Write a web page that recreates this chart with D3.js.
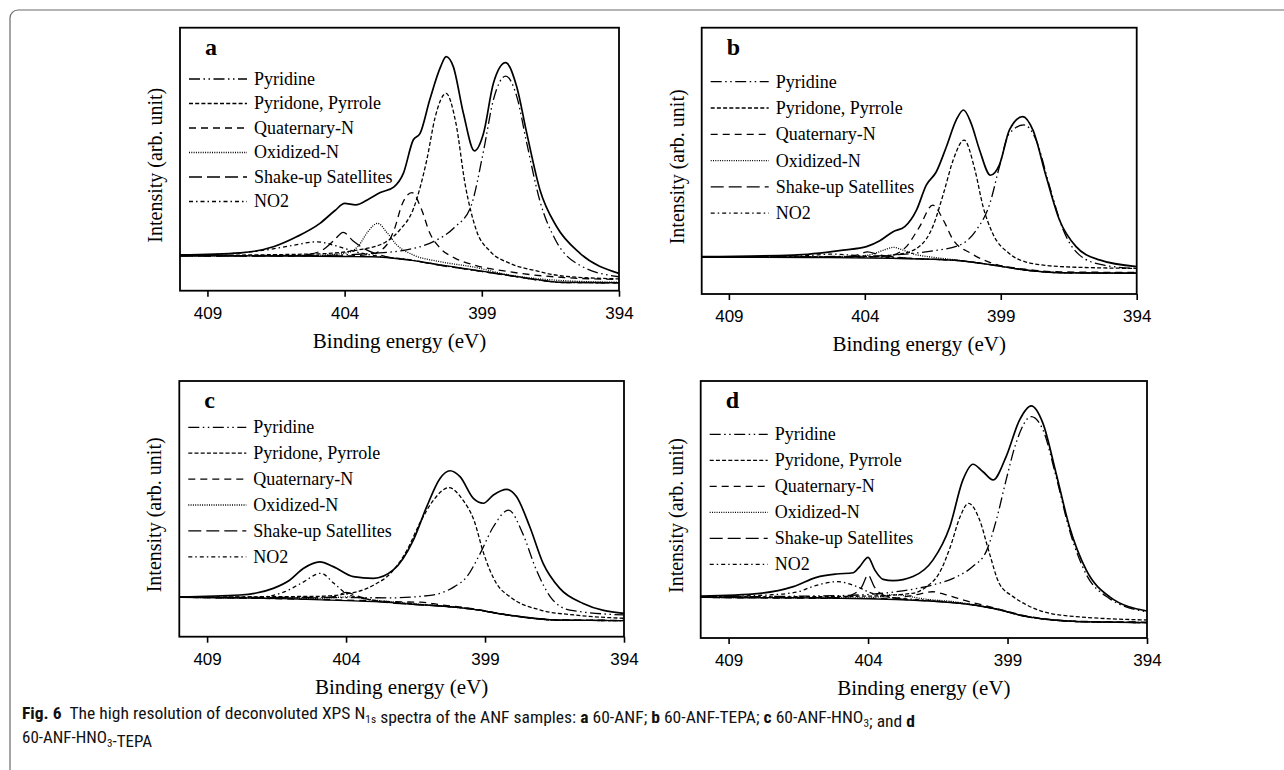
<!DOCTYPE html>
<html>
<head>
<meta charset="utf-8">
<script src="https://cdn.jsdelivr.net/npm/d3@7/dist/d3.min.js"></script>
<style>
  body { margin: 0; background: #fff; }
  svg { display: block; }
</style>
</head>
<body>
<svg id="chart" width="1284" height="770"></svg>
<script>
// binding energy (eV), intensity in % of the plot height
const componentNames = ["Pyridine", "Pyridone, Pyrrole", "Quaternary-N", "Oxidized-N", "Shake-up Satellites", "NO2"];
const tickValues = [409, 404, 399, 394];
const panelLetters = ["a", "b", "c", "d"];

// ---- a: 60-ANF
const aEnvelope = [[410,13.6],[407.8,14.4],[406.6,16.7],[405.75,20.5],[404.9,25.6],[404.35,30.5],[404.0,33.2],[403.6,32.6],[403.1,35],[402.7,37.3],[402.2,39.5],[401.86,44.6],[401.5,57.3],[401.25,59.8],[400.9,72.5],[400.5,85.2],[400.3,89.0],[400.04,85.2],[399.67,67.4],[399.27,53.2],[398.94,59.8],[398.58,78.8],[398.13,86.7],[397.73,77.6],[397.36,59.8],[396.88,38.3],[396.27,24.3],[395.42,14.2],[394,6.6]];
const aBackground = [[410,13.3],[406,13.2],[404,13.0],[403,12.9],[401.7,11.7],[400.5,9.8],[399.3,7.9],[398.1,6.0],[396.9,4.1],[396.1,3.2],[394,3.0]];
const aPyridine = [[410,13.3],[405,13.4],[403,14.2],[401.7,15.6],[400.8,18.5],[400,24],[399.4,32],[398.94,53],[398.58,72.5],[398.13,81.6],[397.73,74],[397.36,56],[396.88,34],[396.3,19],[395.4,9.5],[394,5.3]];
const aPyridone = [[410,13.4],[405,14],[403.5,15.5],[402.5,18.5],[402,23],[401.5,31],[401,50],[400.7,66],[400.3,75],[399.95,64],[399.6,40],[399.2,23],[398.7,15],[398,10.5],[397,7.5],[396,5.5],[394,4.5]];
const aQuaternary = [[410,13.3],[404,13.2],[403,14],[402.5,17],[402.2,23],[401.9,33],[401.55,37.3],[401.2,31],[400.9,22],[400.5,16],[400,12.5],[399.3,9.8],[398,7.2],[396,5],[394,4.3]];
const aOxidized = [[410,13.3],[405,13.5],[404,14.2],[403.5,17],[403.15,22.5],[402.8,25.6],[402.45,22],[402.1,17.4],[401.5,13.6],[400.5,11],[399.3,9],[398,6],[396,3.8],[394,3.2]];
const aShakeUp = [[410,13.2],[406,13.2],[405.3,13.8],[404.8,15.5],[404.4,19],[404.05,22.2],[403.7,19],[403.2,15.5],[402.5,13],[401.5,11.5],[400.5,9.6],[399.3,7.8],[398.1,5.9],[396.9,4],[396,3.1],[394,3.0]];
const aNO2 = [[410,13.4],[408,14.2],[407,15.3],[406,17],[405,18.6],[404.3,17],[403.6,14.8],[403,13.5],[401.5,11.6],[400.5,9.7],[399.3,7.8],[398.1,5.9],[396.9,4],[396,3.1],[394,3.0]];

// ---- b: 60-ANF-TEPA
const bEnvelope = [[410,14.0],[406.63,14.6],[404.8,16.5],[403.94,17.8],[403.45,20.0],[402.96,23.4],[402.53,25.3],[402.1,31.5],[401.74,40.9],[401.37,45.9],[401.0,55.3],[400.64,65.3],[400.37,69.1],[400.09,64.1],[399.78,54.1],[399.38,44.6],[399.05,48.5],[398.68,61.6],[398.19,66.6],[397.82,61.6],[397.33,44.1],[396.84,27.8],[396.23,17.8],[395.37,12.8],[394,10.3]];
const bBackground = [[410,13.8],[406,13.7],[403,13.4],[401.7,13.1],[400.5,12.5],[399.3,10.9],[398.1,9.0],[396.8,8.0],[394,7.8]];
const bPyridine = [[410,13.8],[404,14.2],[402.5,15],[401.5,16.2],[400.5,18.4],[399.9,24],[399.4,34],[399.05,47.8],[398.7,60],[398.15,63.5],[397.7,57.8],[397.2,40.3],[396.7,24],[396.1,14.6],[395.25,10.9],[394,9.6]];
const bPyridone = [[410,13.8],[404,14],[402.7,15],[402,17.8],[401.5,25.3],[401.1,38],[400.75,50.3],[400.35,57.8],[399.95,46.6],[399.65,32.8],[399.3,22.8],[398.7,15.3],[398.1,12.1],[396.8,10.3],[394,9.6]];
const bQuaternary = [[410,13.8],[404,13.9],[403,14.6],[402.5,17.5],[402,25],[401.5,33.4],[401.1,27.5],[400.75,20.3],[400.1,15.3],[399.3,11.5],[398.1,9.3],[396.8,8.3],[394,8.1]];
const bOxidized = [[410,13.8],[404.5,14],[403.7,15],[403.3,16.5],[402.95,17.5],[402.6,16.5],[402.2,15],[401.5,13.8],[400.5,12.6],[399.3,10.9],[398.1,9],[396.8,8],[394,7.8]];
const bShakeUp = [[410,13.8],[405,13.9],[404.3,14.6],[403.9,15.8],[403.5,14.8],[403,14],[401.7,13.1],[400.5,12.5],[399.3,10.9],[398.1,9.0],[396.8,8.0],[394,7.8]];
const bNO2 = [[410,13.8],[407,14],[406,14.5],[405.2,15],[404.5,14.6],[403.5,13.9],[401.7,13.1],[400.5,12.5],[399.3,10.9],[398.1,9.0],[396.8,8.0],[394,7.8]];

// ---- c: 60-ANF-HNO3
const cEnvelope = [[410,15.6],[407.82,16.3],[406.62,18.9],[406.02,22.2],[405.54,26.7],[404.94,29.3],[404.46,27.4],[403.74,23.5],[403.02,22.8],[402.3,26.1],[401.58,37.8],[401.1,50.8],[400.62,61.9],[400.26,64.9],[399.9,62.6],[399.42,54.1],[399.06,52.2],[398.7,55.4],[398.22,57.6],[397.87,54.8],[397.39,43.0],[396.91,28.7],[396.31,18.9],[395.47,13.0],[394,9.1]];
const cBackground = [[410,15.4],[406,14.8],[404,14.1],[403,13.7],[401.5,12.6],[400.6,12.0],[399.4,10.7],[398.2,8.5],[397.2,7.2],[396.4,6.5],[394,6.3]];
const cPyridine = [[410,15.4],[404,15.3],[402.4,15.2],[400.9,16.3],[400.1,19.6],[399.65,23.5],[399.2,32],[398.7,43],[398.15,49.5],[397.65,40.5],[397.15,26],[396.65,15.6],[395.95,10.4],[394,8.5]];
const cPyridone = [[410,15.5],[405,15.8],[403.6,17.6],[403,20.2],[402.4,24.8],[401.8,34],[401.35,44.3],[400.85,53.5],[400.3,58.3],[399.8,53.5],[399.4,45.6],[399.05,32.6],[398.6,21],[398.1,15.6],[397,10.4],[395.8,8.5],[394,7.2]];
const cQuaternary = [[410,15.4],[404,14.3],[403,14],[402,13.6],[401.3,13.5],[400.6,12.5],[399.4,10.9],[398.2,8.6],[396.4,6.6],[394,6.4]];
const cOxidized = [[410,15.4],[405,15],[404.3,15.4],[403.8,15.6],[403.2,14.6],[402,13.3],[400.6,12],[399.4,10.7],[398.2,8.5],[396.4,6.5],[394,6.3]];
const cShakeUp = [[410,15.4],[405,15.2],[404.4,15.8],[404.0,17.3],[403.6,16],[403,14],[401.5,12.6],[400.6,12],[399.4,10.7],[398.2,8.5],[396.4,6.5],[394,6.3]];
const cNO2 = [[410,15.4],[407,15.6],[406.2,17.6],[405.6,21],[404.9,24.8],[404.45,21],[404,17],[403.3,14.8],[402,13.2],[400.6,12],[399.4,10.7],[398.2,8.5],[396.4,6.5],[394,6.3]];

// ---- d: 60-ANF-HNO3-TEPA
const dEnvelope = [[410,16.3],[407.88,17.4],[406.68,20.0],[405.85,23.6],[405.13,24.9],[404.53,25.4],[404.3,27.8],[404.0,31.4],[403.76,26.5],[403.46,22.8],[403.1,22.3],[402.39,23.9],[401.67,30.4],[401.07,43.3],[400.6,61.5],[400.24,67.6],[399.88,64.7],[399.52,61.5],[399.05,70.6],[398.57,84.8],[398.15,90.3],[397.73,83.5],[397.26,64.1],[396.78,43.3],[396.18,26.5],[395.35,16.1],[394,10.5]];
const dBackground = [[410,15.8],[406,15.6],[404,15.3],[403,15.0],[401.5,14.2],[400.7,13.5],[399.5,11.5],[398.3,8.3],[397.3,7.0],[396.5,6.4],[394,6.0]];
const dPyridine = [[410,16],[405,16.5],[403,18],[401.7,20.6],[400.95,23.2],[400.25,27.8],[399.75,34],[399.4,46],[399.05,61.5],[398.7,75.7],[398.15,86.1],[397.73,81],[397.26,62.8],[396.78,42],[396.2,25.2],[395.35,15.4],[394,10.2]];
const dPyridone = [[410,15.9],[404,16.3],[402.4,17.4],[401.9,20],[401.45,25.2],[401.05,35.5],[400.7,47.2],[400.4,52.4],[400,45.9],[399.65,33],[399.3,21.3],[398.8,16.1],[398.3,12.8],[397.1,8.9],[394,7.0]];
const dQuaternary = [[410,15.8],[404,15.4],[403,15.6],[402.3,16.8],[401.7,18.0],[401.2,16.8],[400.5,14.5],[399.5,11.8],[398.3,8.5],[396.5,6.5],[394,6.2]];
const dOxidized = [[410,15.8],[404,15.6],[403.5,16.2],[403.1,16.9],[402.6,16.3],[402,15.2],[401,14.2],[399.5,11.5],[398.3,8.3],[396.5,6.4],[394,6.0]];
const dShakeUp = [[410,15.8],[405,15.7],[404.45,17.5],[404.22,20],[404.0,24.5],[403.78,20],[403.55,17.3],[403,15.4],[401.5,14.2],[400.7,13.5],[399.5,11.5],[398.3,8.3],[397.3,7.0],[396.5,6.4],[394,6.0]];
const dNO2 = [[410,16],[407.5,16.8],[406.5,18],[406,20],[405.1,21.9],[404.4,20],[404,18],[403.3,16],[402,14.8],[400.7,13.5],[399.5,11.5],[398.3,8.3],[396.5,6.4],[394,6.0]];

// line styles, same order as componentNames
const dashes = ["11,3.5,1.5,3.5,1.5,3.5", "4,2.2", "7,5", "1,1.3", "13,5", "4,3,1.5,3"];

const panels = [
  { x: 180,   y: 27.7, w: 439,   h: 263,   legY: 79,    legStep: 24.5, env: aEnvelope, bg: aBackground, comps: [aPyridine, aPyridone, aQuaternary, aOxidized, aShakeUp, aNO2] },
  { x: 701.7, y: 27.7, w: 435,   h: 266.3, legY: 81.7,  legStep: 26.3, env: bEnvelope, bg: bBackground, comps: [bPyridine, bPyridone, bQuaternary, bOxidized, bShakeUp, bNO2] },
  { x: 179.3, y: 381,  w: 444.7, h: 255.7, legY: 427.3, legStep: 25.9, env: cEnvelope, bg: cBackground, comps: [cPyridine, cPyridone, cQuaternary, cOxidized, cShakeUp, cNO2] },
  { x: 700.7, y: 381,  w: 446.3, h: 257,   legY: 434.3, legStep: 26,   env: dEnvelope, bg: dBackground, comps: [dPyridine, dPyridone, dQuaternary, dOxidized, dShakeUp, dNO2] }
];

const svg = d3.select("#chart");
const serif = "'Liberation Serif', 'Times New Roman', serif";
const sans = "'Liberation Sans', Arial, sans-serif";

// outer frame of the figure box (bottom edge runs just off the page)
svg.append("rect")
  .attr("x", 10).attr("y", 10)
  .attr("width", 1300).attr("height", 768)
  .attr("rx", 8)
  .attr("fill", "none")
  .attr("stroke", "#6b6b6b")
  .attr("stroke-width", 1.2);

panels.forEach(function(p, i) {
  const g = svg.append("g").attr("transform", "translate(" + p.x + "," + p.y + ")");

  const x = d3.scaleLinear().domain([410, 394]).range([0, p.w]);
  const y = d3.scaleLinear().domain([0, 100]).range([p.h, 0]);

  const line = d3.line()
    .x(function(d) { return x(d[0]); })
    .y(function(d) { return y(d[1]); })
    .curve(d3.curveMonotoneX);

  g.append("clipPath").attr("id", "clip" + i)
    .append("rect").attr("width", p.w).attr("height", p.h);

  const plot = g.append("g").attr("clip-path", "url(#clip" + i + ")");

  p.comps.forEach(function(c, k) {
    plot.append("path")
      .attr("d", line(c))
      .attr("fill", "none")
      .attr("stroke", "#000")
      .attr("stroke-width", 1.3)
      .attr("stroke-dasharray", dashes[k]);
  });

  plot.append("path")
    .attr("d", line(p.bg))
    .attr("fill", "none")
    .attr("stroke", "#000")
    .attr("stroke-width", 1.4);

  plot.append("path")
    .attr("d", line(p.env))
    .attr("fill", "none")
    .attr("stroke", "#000")
    .attr("stroke-width", 1.7);

  // x axis
  const axis = g.append("g")
    .attr("transform", "translate(0," + p.h + ")")
    .call(d3.axisBottom(x).tickValues(tickValues).tickSizeOuter(0).tickSize(6).tickPadding(10));
  axis.select(".domain").remove();
  axis.selectAll(".tick line").attr("stroke", "#000").attr("stroke-width", 1.6);
  axis.selectAll(".tick text")
    .attr("fill", "#000")
    .style("font-family", sans)
    .style("font-size", "17px");

  // plot box
  g.append("rect")
    .attr("width", p.w).attr("height", p.h)
    .attr("fill", "none")
    .attr("stroke", "#000")
    .attr("stroke-width", 1.8);

  g.append("text")
    .attr("x", p.w / 2).attr("y", p.h + 57)
    .attr("text-anchor", "middle")
    .style("font-family", serif)
    .style("font-size", "21px")
    .text("Binding energy (eV)");

  g.append("text")
    .attr("transform", "translate(-18," + (p.h / 2 + 6) + ") rotate(-90)")
    .attr("text-anchor", "middle")
    .style("font-family", serif)
    .style("font-size", "20px")
    .text("Intensity (arb. unit)");

  g.append("text")
    .attr("x", 25).attr("y", 27)
    .style("font-family", serif)
    .style("font-size", "24px")
    .style("font-weight", "bold")
    .text(panelLetters[i]);

  // legend
  const leg = g.append("g");
  componentNames.forEach(function(name, k) {
    const ly = p.legY - p.y + k * p.legStep;
    leg.append("line")
      .attr("x1", 9).attr("x2", 67)
      .attr("y1", ly).attr("y2", ly)
      .attr("stroke", "#000")
      .attr("stroke-width", 1.3)
      .attr("stroke-dasharray", dashes[k]);
    leg.append("text")
      .attr("x", 74).attr("y", ly + 6)
      .style("font-family", serif)
      .style("font-size", "18px")
      .text(name);
  });
});

// caption
const capFont = "'Liberation Sans Narrow', 'Roboto Condensed', 'Noto Sans', sans-serif";
function part(t, s, bold) {
  const ts = t.append("tspan").text(s);
  if (bold) ts.style("font-weight", "bold");
  return ts;
}
function sub(t, s) {
  t.append("tspan").attr("dy", 4).style("font-size", "11px").text(s);
  t.append("tspan").attr("dy", -4).text("");
}
const cap1 = svg.append("text").attr("x", 22).attr("y", 719)
  .attr("textLength", 893).attr("lengthAdjust", "spacingAndGlyphs")
  .style("font-family", capFont).style("font-size", "17px").attr("fill", "#111");
part(cap1, "Fig. 6", true);
part(cap1, "\u2002The high resolution of deconvoluted XPS N");
sub(cap1, "1s");
part(cap1, " spectra of the ANF samples: ");
part(cap1, "a", true);
part(cap1, " 60-ANF; ");
part(cap1, "b", true);
part(cap1, " 60-ANF-TEPA; ");
part(cap1, "c", true);
part(cap1, " 60-ANF-HNO");
sub(cap1, "3");
part(cap1, "; and ");
part(cap1, "d", true);

const cap2 = svg.append("text").attr("x", 22).attr("y", 743)
  .style("font-family", capFont).style("font-size", "17px").attr("fill", "#111");
part(cap2, "60-ANF-HNO");
sub(cap2, "3");
part(cap2, "-TEPA");
</script>
</body>
</html>
